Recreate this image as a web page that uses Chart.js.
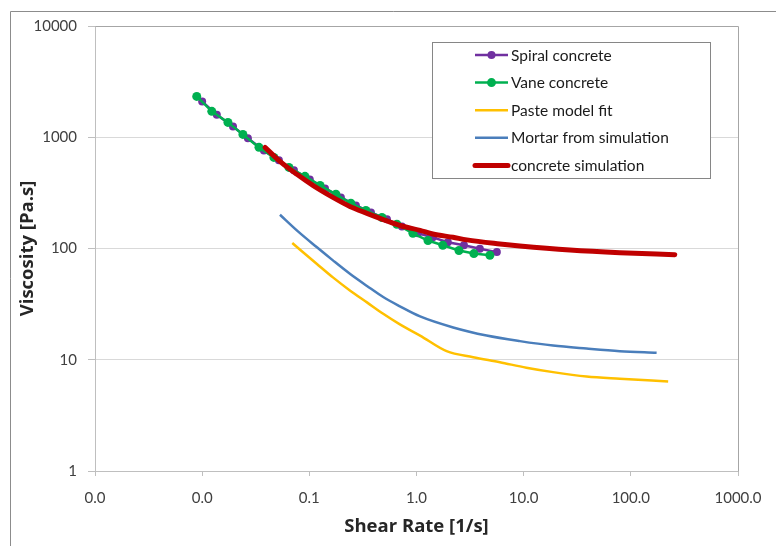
<!DOCTYPE html>
<html>
<head>
<meta charset="utf-8">
<script src="https://cdn.jsdelivr.net/npm/chart.js@4.4.1/dist/chart.umd.min.js"></script>
<style>
  html, body { margin: 0; padding: 0; background: #fff; }
  #wrap { width: 776px; height: 546px; }
</style>
</head>
<body>
<div id="wrap"><canvas id="myChart" width="776" height="546"></canvas></div>
<script>
// shear rate [1/s] / viscosity [Pa.s]
var spiralRate = [0.0100, 0.0137, 0.0194, 0.0267, 0.0377, 0.0520, 0.0718, 0.101, 0.140, 0.197, 0.272, 0.376, 0.530, 0.731, 1.03, 1.42, 1.96, 2.77, 3.90, 5.62];
var spiralVisc = [2100, 1590, 1250, 977, 762, 620, 504, 418, 347, 288, 244, 211, 183, 158, 137, 126, 114, 107, 99.6, 92.8];

var vaneRate = [0.0089, 0.0123, 0.0174, 0.0240, 0.0339, 0.0467, 0.0645, 0.0910, 0.126, 0.177, 0.244, 0.337, 0.476, 0.656, 0.926, 1.28, 1.76, 2.49, 3.43, 4.84];
var vaneVisc = [2330, 1710, 1360, 1060, 811, 659, 536, 445, 369, 307, 255, 220, 190, 165, 137, 118, 107, 96, 90, 87];

var pasteRate = [0.0693, 0.117, 0.166, 0.239, 0.345, 0.489, 0.700, 1.08, 1.91, 3.38, 6.0, 10.6, 18.8, 38.6, 78.9, 223];
var pasteVisc = [112, 73, 55, 42, 32.8, 25.9, 20.8, 16.5, 11.95, 10.55, 9.5, 8.48, 7.74, 7.07, 6.75, 6.38];

var mortarRate = [0.0532, 0.0783, 0.117, 0.166, 0.239, 0.345, 0.489, 0.700, 1.08, 2.20, 4.51, 9.22, 18.8, 38.6, 78.9, 174];
var mortarVisc = [201, 142.5, 103, 78.2, 59.3, 46.1, 36.6, 30.2, 24.5, 19.5, 16.5, 14.7, 13.4, 12.6, 11.95, 11.56];

var concreteRate = [0.0386, 0.0532, 0.0766, 0.108, 0.166, 0.239, 0.345, 0.497, 0.700, 1.08, 1.42, 2.19, 2.95, 6.0, 9.2, 27, 79, 257];
var concreteVisc = [811, 607, 464, 369, 288, 239, 207, 181, 161, 145.5, 135, 126, 119.5, 110, 105.5, 97, 91.7, 88];

var xTicks = [0.001, 0.01, 0.1, 1, 10, 100, 1000];
var yTicks = [1, 10, 100, 1000, 10000];

var FONT = 'Lato, "Open Sans", sans-serif';
var TITLE_FONT = '"Open Sans", Lato, sans-serif';

function pts(xs, ys) {
    return xs.map(function (x, i) { return { x: x, y: ys[i] }; });
}

// white page, outer frame line on the left and top
var pageFrame = {
    id: 'pageFrame',
    beforeDraw: function (chart) {
        var c = chart.ctx;
        c.save();
        c.fillStyle = '#fff';
        c.fillRect(0, 0, chart.width, chart.height);
        c.strokeStyle = '#8c8c8c';
        c.lineWidth = 1;
        c.beginPath();
        c.moveTo(10.5, chart.height);
        c.lineTo(10.5, 11.5);
        c.lineTo(chart.width, 11.5);
        c.stroke();
        c.restore();
    },
    beforeDatasetsDraw: function (chart) {
        // top and right edge of the plot area
        var a = chart.chartArea, c = chart.ctx;
        c.save();
        c.strokeStyle = '#a6a6a6';
        c.lineWidth = 1;
        c.beginPath();
        c.moveTo(Math.round(a.left) + 0.5, Math.round(a.top) + 0.5);
        c.lineTo(Math.round(a.right) + 0.5, Math.round(a.top) + 0.5);
        c.lineTo(Math.round(a.right) + 0.5, Math.round(a.bottom) + 0.5);
        c.stroke();
        c.restore();
    }
};

// boxed legend like the excel one
var boxLegend = {
    id: 'boxLegend',
    afterDraw: function (chart) {
        var c = chart.ctx;
        var bx = 432, by = 42, bw = 278, bh = 136;
        c.save();
        c.fillStyle = '#fff';
        c.fillRect(bx, by, bw, bh);
        c.strokeStyle = '#868686';
        c.lineWidth = 1;
        c.strokeRect(bx + 0.5, by + 0.5, bw, bh);
        chart.data.datasets.forEach(function (ds, i) {
            var y = 55 + i * 27.6;
            c.strokeStyle = ds.borderColor;
            c.lineWidth = ds.borderWidth;
            c.lineCap = ds.borderWidth > 3 ? 'round' : 'butt';
            c.beginPath();
            c.moveTo(475, y);
            c.lineTo(508, y);
            c.stroke();
            if (ds.pointRadius > 0) {
                c.fillStyle = ds.backgroundColor;
                c.beginPath();
                c.arc(491.5, y, ds.pointRadius, 0, Math.PI * 2);
                c.fill();
            }
            c.fillStyle = '#1a1a1a';
            c.font = '15.5px ' + FONT;
            c.textBaseline = 'middle';
            c.textAlign = 'left';
            c.fillText(ds.label, 511, y + 0.5);
        });
        c.restore();
    }
};

var ctx = document.getElementById('myChart').getContext('2d');

var myChart = new Chart(ctx, {
    type: 'scatter',
    data: {
        datasets: [{
            label: 'Spiral concrete',
            data: pts(spiralRate, spiralVisc),
            showLine: true,
            borderColor: '#7030a0',
            backgroundColor: '#7030a0',
            borderWidth: 2.5,
            pointRadius: 4,
            pointBorderWidth: 0,
            order: 5
        }, {
            label: 'Vane concrete',
            data: pts(vaneRate, vaneVisc),
            showLine: true,
            borderColor: '#00b050',
            backgroundColor: '#00b050',
            borderWidth: 2.5,
            pointRadius: 4.5,
            pointBorderWidth: 0,
            order: 4
        }, {
            label: 'Paste model fit',
            data: pts(pasteRate, pasteVisc),
            showLine: true,
            borderColor: '#ffc000',
            backgroundColor: '#ffc000',
            borderWidth: 2.5,
            pointRadius: 0,
            cubicInterpolationMode: 'monotone',
            order: 3
        }, {
            label: 'Mortar from simulation',
            data: pts(mortarRate, mortarVisc),
            showLine: true,
            borderColor: '#4a7ebb',
            backgroundColor: '#4a7ebb',
            borderWidth: 2.5,
            pointRadius: 0,
            cubicInterpolationMode: 'monotone',
            order: 2
        }, {
            label: 'concrete simulation',
            data: pts(concreteRate, concreteVisc),
            showLine: true,
            borderColor: '#c00000',
            backgroundColor: '#c00000',
            borderWidth: 5,
            borderCapStyle: 'round',
            pointRadius: 0,
            cubicInterpolationMode: 'monotone',
            order: 1
        }]
    },
    options: {
        responsive: false,
        animation: false,
        devicePixelRatio: 1,
        layout: { padding: { left: 10, top: 26, right: 38, bottom: 5 } },
        plugins: {
            legend: { display: false },
            tooltip: { enabled: false }
        },
        scales: {
            x: {
                type: 'logarithmic',
                min: 0.001,
                max: 1000,
                afterBuildTicks: function (s) { s.ticks = xTicks.map(function (v) { return { value: v }; }); },
                afterFit: function (s) { s.height = 70; },
                ticks: {
                    autoSkip: false,
                    maxRotation: 0,
                    padding: 13,
                    color: '#404040',
                    font: { family: FONT, size: 15 },
                    callback: function (v) { return Number(v).toFixed(1); }
                },
                grid: { drawOnChartArea: false, tickLength: 5, tickColor: '#bfbfbf' },
                border: { color: '#bfbfbf' },
                title: {
                    display: true,
                    text: 'Shear Rate [1/s]',
                    color: '#262626',
                    font: { family: TITLE_FONT, size: 18.5, weight: 'bold' },
                    padding: { top: 0, bottom: 3 }
                }
            },
            y: {
                type: 'logarithmic',
                min: 1,
                max: 10000,
                afterBuildTicks: function (s) { s.ticks = yTicks.map(function (v) { return { value: v }; }); },
                afterFit: function (s) { s.width = 85; },
                ticks: {
                    padding: 11,
                    color: '#404040',
                    font: { family: FONT, size: 15 },
                    callback: function (v) { return String(v); }
                },
                grid: { color: '#d9d9d9', tickLength: 7, tickColor: '#bfbfbf' },
                border: { color: '#bfbfbf' },
                title: {
                    display: true,
                    text: 'Viscosity [Pa.s]',
                    color: '#262626',
                    font: { family: TITLE_FONT, size: 18.5, weight: 'bold' },
                    padding: { top: 7, bottom: 0 }
                }
            }
        }
    },
    plugins: [pageFrame, boxLegend]
});
</script>
</body>
</html>
